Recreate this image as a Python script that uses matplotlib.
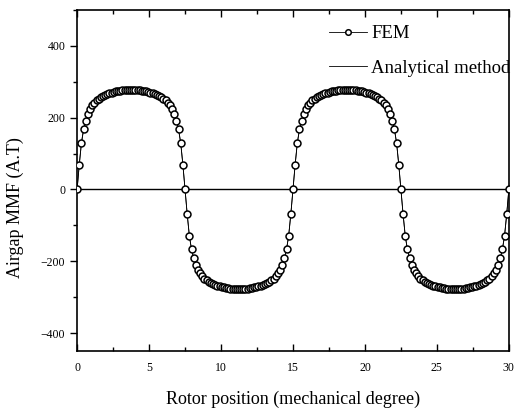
import numpy as np
import matplotlib
matplotlib.use("Agg")
import matplotlib.pyplot as plt
from matplotlib.ticker import MultipleLocator

# Rotor position samples (degrees, uniform 0.15 deg grid)
rotor_pos = np.linspace(0, 30, 201)

# Airgap MMF (A.T)
mmf_fem = [
    0, 69, 129, 167, 192, 211, 224, 234, 242, 248,
    253, 257, 261, 264, 266, 268, 270, 272, 273, 274,
    275, 276, 277, 277, 278, 278, 278, 277, 277, 276,
    275, 274, 273, 272, 270, 268, 266, 264, 261, 257,
    253, 248, 242, 234, 224, 211, 192, 167, 129, 69,
    0, -69, -129, -167, -192, -211, -224, -234, -242, -248,
    -253, -257, -261, -264, -266, -268, -270, -272, -273, -274,
    -275, -276, -277, -277, -278, -278, -278, -277, -277, -276,
    -275, -274, -273, -272, -270, -268, -266, -264, -261, -257,
    -253, -248, -242, -234, -224, -211, -192, -167, -129, -69,
    0, 69, 129, 167, 192, 211, 224, 234, 242, 248,
    253, 257, 261, 264, 266, 268, 270, 272, 273, 274,
    275, 276, 277, 277, 278, 278, 278, 277, 277, 276,
    275, 274, 273, 272, 270, 268, 266, 264, 261, 257,
    253, 248, 242, 234, 224, 211, 192, 167, 129, 69,
    0, -69, -129, -167, -192, -211, -224, -234, -242, -248,
    -253, -257, -261, -264, -266, -268, -270, -272, -273, -274,
    -275, -276, -277, -277, -278, -278, -278, -277, -277, -276,
    -275, -274, -273, -272, -270, -268, -266, -264, -261, -257,
    -253, -248, -242, -234, -224, -211, -192, -167, -129, -69,
    0,
]
mmf_analytical = list(mmf_fem)

x_ticks = [0, 5, 10, 15, 20, 25, 30]
y_ticks = [-400, -200, 0, 200, 400]

plt.rcParams['font.family'] = ['Liberation Serif', 'DejaVu Serif']

fig = plt.figure(figsize=(5.14, 4.13), dpi=100)
ax = fig.add_axes([0.150, 0.150, 0.840, 0.826])

ax.axhline(0, color='black', lw=1.0, zorder=1)
ax.plot(rotor_pos, mmf_analytical, color='black', lw=0.6, zorder=2,
        label='Analytical method')
ax.plot(rotor_pos, mmf_fem, color='black', lw=0.6, marker='o', ms=5,
        mfc='white', mec='black', mew=1.1, zorder=3, label='FEM')

ax.set_xlim(0, 30)
ax.set_ylim(-450, 500)
ax.set_xticks(x_ticks)
ax.set_yticks(y_ticks)
ax.xaxis.set_minor_locator(MultipleLocator(2.5))
ax.yaxis.set_minor_locator(MultipleLocator(100))

ax.tick_params(axis='x', which='both', direction='in', top=True, bottom=True,
               labelsize=8.5, pad=8)
ax.tick_params(axis='x', which='major', length=5, width=1)
ax.tick_params(axis='x', which='minor', length=3, width=1)
ax.tick_params(axis='y', which='both', direction='out', left=True, right=False,
               labelsize=8.5)
ax.tick_params(axis='y', which='major', length=5, width=1)
ax.tick_params(axis='y', which='minor', length=3, width=1)
for s in ax.spines.values():
    s.set_linewidth(1.2)

ax.set_xlabel('Rotor position (mechanical degree)', fontsize=13, labelpad=12)
ax.set_ylabel('Airgap MMF (A.T)', fontsize=13)
ax.yaxis.set_label_coords(-0.122, 0.42)

handles, labels = ax.get_legend_handles_labels()
leg = fig.legend([handles[1], handles[0]], [labels[1], labels[0]],
                 loc='center left', bbox_to_anchor=(329 / 514, 1 - 51 / 413),
                 frameon=False, fontsize=13.5, handlelength=2.0,
                 labelspacing=0.95, borderaxespad=0, borderpad=0,
                 handletextpad=0.25, markerscale=0.8)

fig.savefig('out.png', dpi=100)
